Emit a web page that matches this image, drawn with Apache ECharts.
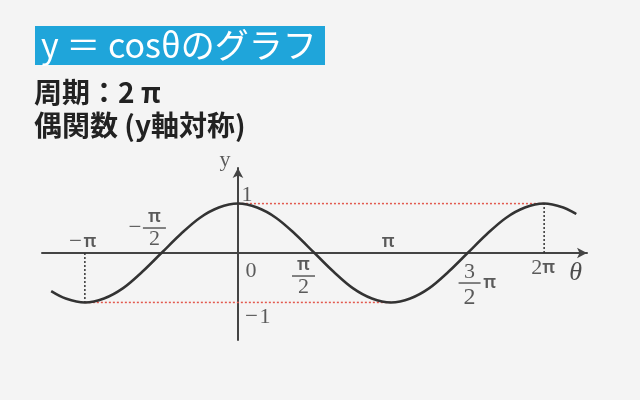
<!DOCTYPE html>
<html>
<head>
<meta charset="utf-8">
<script src="https://cdn.jsdelivr.net/npm/echarts@6/dist/echarts.min.js"></script>
<style>
html,body{margin:0;padding:0;background:#f4f4f4;}
#main{width:640px;height:400px;}
</style>
</head>
<body>
<div id="main"></div>
<script>
// θ in units of π
var theta = [-1.22,-1.125,-1,-0.875,-0.75,-0.625,-0.5,-0.375,-0.25,-0.125,0,0.125,0.25,0.375,0.5,0.625,0.75,0.875,1,1.125,1.25,1.375,1.5,1.625,1.75,1.875,2,2.125,2.21];
var yValues = [-0.77,-0.92,-1,-0.92,-0.71,-0.38,0,0.38,0.71,0.92,1,0.92,0.71,0.38,0,-0.38,-0.71,-0.92,-1,-0.92,-0.71,-0.38,0,0.38,0.71,0.92,1,0.92,0.79];

// guide lines
var topGuide = [[0,1],[2,1]];
var bottomGuide = [[-1,-1],[1,-1]];
var leftDrop = [[-1,0],[-1,-1]];
var rightDrop = [[2,0],[2,1]];

// tick labels on the θ axis
var xTicks = [-1,-0.5,0,0.5,1,1.5,2];
var xTickText = ['−π','−π/2','0','π/2','π','3/2π','2π'];
var yTicks = [1,-1];
var yTickText = ['1','−1'];

var titleText = 'y ＝ cosθのグラフ';
var line1 = '周期：2 π';
var line2 = '偶関数 (y軸対称)';

var serif = '"Liberation Serif","DejaVu Serif",serif';
var sans = '"Noto Sans","DejaVu Sans",sans-serif';
var ink = '#333';

var rich = {
  m:{fontFamily:serif,fontSize:23,color:ink,width:16,align:'center',lineHeight:4},
  p:{fontFamily:sans,fontSize:18,fontWeight:600,color:ink,lineHeight:18},
  pm:{fontFamily:sans,fontSize:18,fontWeight:600,color:ink,width:18,align:'center',lineHeight:4},
  n:{fontFamily:serif,fontSize:22,color:ink,lineHeight:22},
  fn:{fontFamily:sans,fontSize:18,fontWeight:600,color:ink,width:23,align:'center',lineHeight:18},
  fd:{fontFamily:serif,fontSize:22,color:ink,width:23,align:'center',lineHeight:18},
  f3:{fontFamily:serif,fontSize:22,color:ink,width:22,align:'center',lineHeight:18},
  f2:{fontFamily:serif,fontSize:24,color:ink,width:22,align:'center',lineHeight:26},
  gap:{width:16,lineHeight:18},
  gap2:{width:18,lineHeight:18},
  bar:{width:23,height:1.5,lineHeight:4,backgroundColor:ink},
  bar2:{width:22,height:1.5,lineHeight:4,backgroundColor:ink},
  th:{fontFamily:serif,fontSize:26,fontStyle:'italic',color:'#222'}
};

var xFmt = {
  '−π':{t:'{m|−}{p|π}',off:[-3,-11]},
  '−π/2':{t:'{gap| }{fn|π}\n{m|−}{bar| }\n{gap| }{fd|2}',off:[-15,-25]},
  '0':{t:'{n|0}',off:[13,18]},
  'π/2':{t:'{fn|π}\n{bar| }\n{fd|2}',off:[-11,23]},
  'π':{t:'{p|π}',off:[-3,-11]},
  '3/2π':{t:'{f3|3}{gap2| }\n{bar2| }{pm|π}\n{f2|2}{gap2| }',off:[11,34]},
  '2π':{t:'{n|2}{p|π}',off:[-1,15]}
};
var yFmt = {'1':{t:'{n|1}',off:[9,-8]},'−1':{t:'{m|−}{n|1}',off:[19,15]}};

function labelData(ticks, texts, fmt, onX){
  return ticks.map(function(v,i){
    var f = fmt[texts[i]];
    return {
      value: onX ? [v,0] : [0,v],
      label:{show:true,position:'inside',formatter:f.t,offset:f.off,rich:rich}
    };
  });
}

var chart = echarts.init(document.getElementById('main'));
var guideStyle = {color:'#e2584d',type:[2,2],width:1.5};
var dropStyle = {color:'#333',type:[2,2],width:1.5};

chart.setOption({
  backgroundColor:'#f4f4f4',
  animation:false,
  grid:{left:42,right:53,top:168,bottom:60},
  xAxis:{type:'value',min:-1.28,max:2.28,
    axisLine:{show:true,onZero:true,symbol:['none','arrow'],symbolSize:[8,10],lineStyle:{color:'#444',width:2}},
    axisTick:{show:false},axisLabel:{show:false},splitLine:{show:false}},
  yAxis:{type:'value',min:-1.76,max:1.72,
    axisLine:{show:true,onZero:true,symbol:['none','arrow'],symbolSize:[8,10],lineStyle:{color:'#444',width:2}},
    axisTick:{show:false},axisLabel:{show:false},splitLine:{show:false}},
  graphic:[
    {type:'rect',shape:{x:35,y:26,width:290,height:39},style:{fill:'#1fa5da'}},
    {type:'text',left:41,top:28,style:{text:titleText,fill:'#fff',font:'34px "Noto Sans CJK JP"'}},
    {type:'text',left:34,top:78,style:{text:line1,fill:'#222',font:'bold 28px "Noto Sans CJK JP"'}},
    {type:'text',left:34,top:111,style:{text:line2,fill:'#222',font:'bold 28px "Noto Sans CJK JP"'}}
  ],
  series:[
    {type:'line',data:topGuide,symbol:'none',lineStyle:guideStyle,silent:true},
    {type:'line',data:bottomGuide,symbol:'none',lineStyle:guideStyle,silent:true},
    {type:'line',data:leftDrop,symbol:'none',lineStyle:dropStyle,silent:true},
    {type:'line',data:rightDrop,symbol:'none',lineStyle:dropStyle,silent:true},
    {type:'line',data:theta.map(function(t,i){return [t,yValues[i]];}),symbol:'none',smooth:0.35,
      lineStyle:{color:'#333',width:2.5},z:5},
    {type:'scatter',symbolSize:0,data:labelData(xTicks,xTickText,xFmt,true),z:6},
    {type:'scatter',symbolSize:0,data:labelData(yTicks,yTickText,yFmt,false),z:6},
    {type:'scatter',symbolSize:0,z:6,data:[
      {value:[0,1.72],label:{show:true,position:'inside',formatter:'{n|y}',offset:[-13,-8],rich:rich}},
      {value:[2.2,0],label:{show:true,position:'inside',formatter:'{th|θ}',offset:[1,20],rich:rich}}
    ]}
  ]
});
</script>
</body>
</html>
